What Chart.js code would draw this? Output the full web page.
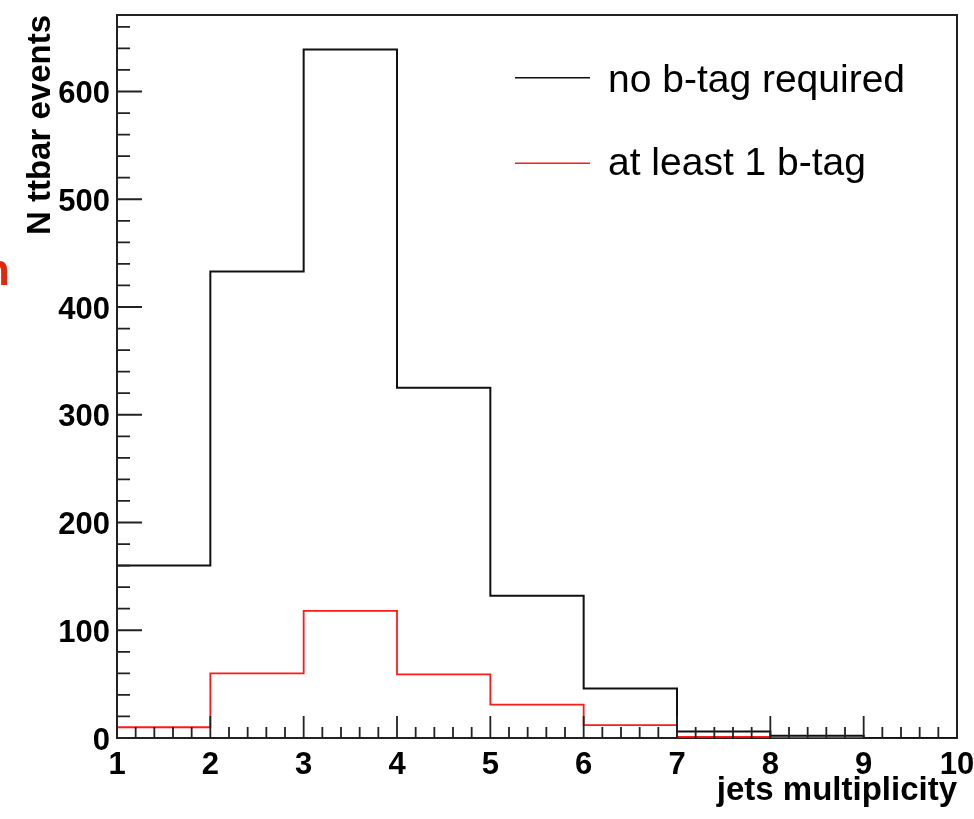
<!DOCTYPE html>
<html><head><meta charset="utf-8">
<script src="https://cdn.jsdelivr.net/npm/chart.js@4/dist/chart.umd.min.js"></script>
<style>html,body{margin:0;padding:0;background:#fff;overflow:hidden;} #wrap{width:974px;height:819px;position:relative;}</style>
</head><body><div id="wrap"><canvas id="c" width="974" height="819"></canvas></div>
<script>
// ---- data ----
const binEdges = [1, 2, 3, 4, 5, 6, 7, 8, 9, 10];
const noBtag = [160, 433, 639, 325, 132, 46, 6, 2, 0];
const atLeastOneBtag = [10, 60, 118, 59, 31, 12, 1, 0, 0];
const xTickLabels = [1, 2, 3, 4, 5, 6, 7, 8, 9, 10];
const yTickLabels = [0, 100, 200, 300, 400, 500, 600];
const seriesNames = ['no b-tag required', 'at least 1 b-tag'];
const xTitle = 'jets multiplicity';
const yTitle = 'N ttbar events';

function histPoints(vals) {
  const pts = vals.map((v, i) => ({x: binEdges[i], y: v}));
  pts.push({x: binEdges[binEdges.length - 1], y: vals[vals.length - 1]});
  return pts;
}

const FONT = "'Liberation Sans', Arial, Helvetica, sans-serif";

const rootStyle = {
  id: 'rootStyle',
  beforeDatasetsDraw(chart) {
    const {ctx, chartArea: a} = chart;
    ctx.save();
    ctx.strokeStyle = '#222';
    ctx.lineWidth = 2;
    ctx.strokeRect(a.left, a.top, a.right - a.left, a.bottom - a.top);
    ctx.restore();
  },
  afterDatasetsDraw(chart) {
    const {ctx, chartArea: a, scales} = chart;
    const xs = scales.x, ys = scales.y;
    ctx.save();
    ctx.strokeStyle = '#222';
    ctx.lineWidth = 1.8;
    ctx.beginPath();
    // x ticks (inward)
    for (let i = 0; i < xTickLabels.length; i++) {
      const v = xTickLabels[i];
      const px = xs.getPixelForValue(v);
      ctx.moveTo(px, a.bottom); ctx.lineTo(px, a.bottom - 22);
      if (i < xTickLabels.length - 1) {
        for (let k = 1; k < 5; k++) {
          const mx = xs.getPixelForValue(v + k * 0.2);
          ctx.moveTo(mx, a.bottom); ctx.lineTo(mx, a.bottom - 11);
        }
      }
    }
    // y ticks (inward)
    for (let v = 0; v <= ys.max; v += 20) {
      const py = ys.getPixelForValue(v);
      const len = (v % 100 === 0) ? 25 : 13;
      ctx.moveTo(a.left, py); ctx.lineTo(a.left + len, py);
    }
    ctx.stroke();
    ctx.restore();

    // legend
    ctx.save();
    const rows = [{y: 77.7, base: 92}, {y: 163.3, base: 175}];
    chart.data.datasets.forEach((ds, i) => {
      const r = rows[i];
      ctx.strokeStyle = ds.borderColor;
      ctx.lineWidth = 1.6;
      ctx.beginPath(); ctx.moveTo(515, r.y); ctx.lineTo(590, r.y); ctx.stroke();
      ctx.fillStyle = '#000';
      ctx.font = '39px ' + FONT;
      ctx.textBaseline = 'alphabetic';
      ctx.textAlign = 'left';
      ctx.fillText(ds.label, 608, r.base);
    });
    // cut-off red letter at the left edge
    ctx.fillStyle = '#e3260d';
    ctx.font = 'bold 44px ' + FONT;
    ctx.fillText('n', -17, 285);
    ctx.restore();
  }
};

new Chart(document.getElementById('c'), {
  type: 'line',
  data: {
    datasets: [
      {label: seriesNames[0], data: histPoints(noBtag), borderColor: '#111', borderWidth: 2,
       stepped: 'before', pointRadius: 0, fill: false, tension: 0},
      {label: seriesNames[1], data: histPoints(atLeastOneBtag), borderColor: '#ff1a1a', borderWidth: 1.8,
       stepped: 'before', pointRadius: 0, fill: false, tension: 0}
    ]
  },
  options: {
    responsive: false,
    animation: false,
    devicePixelRatio: 1,
    layout: {padding: {left: 0, top: 15, right: 17, bottom: 0}},
    plugins: {legend: {display: false}, tooltip: {enabled: false}},
    scales: {
      x: {
        type: 'linear', min: 1, max: 10,
        grid: {display: false, drawTicks: false},
        border: {display: false},
        afterBuildTicks: s => { s.ticks = xTickLabels.map(v => ({value: v})); },
        afterFit: s => { s.height = 81; s.paddingLeft = 0; s.paddingRight = 0; },
        ticks: {autoSkip: false, maxRotation: 0, minRotation: 0, padding: 9, color: '#000',
                font: {family: FONT, size: 31, weight: 'bold'}},
        title: {display: true, text: xTitle, align: 'end', color: '#000',
                font: {family: FONT, size: 33, weight: 'bold'}, padding: {top: 0, bottom: 8}}
      },
      y: {
        type: 'linear', min: 0, max: 671,
        grid: {display: false, drawTicks: false},
        border: {display: false},
        afterBuildTicks: s => { s.ticks = yTickLabels.map(v => ({value: v})); },
        afterFit: s => { s.width = 117; s.paddingTop = 0; s.paddingBottom = 0; },
        ticks: {autoSkip: false, padding: 7, labelOffset: 3, color: '#000',
                font: {family: FONT, size: 31, weight: 'bold'}},
        title: {display: true, text: yTitle, align: 'end', color: '#000',
                font: {family: FONT, size: 33, weight: 'bold'}, padding: {top: 21, bottom: 0}}
      }
    }
  },
  plugins: [rootStyle]
});
</script>
</body></html>
